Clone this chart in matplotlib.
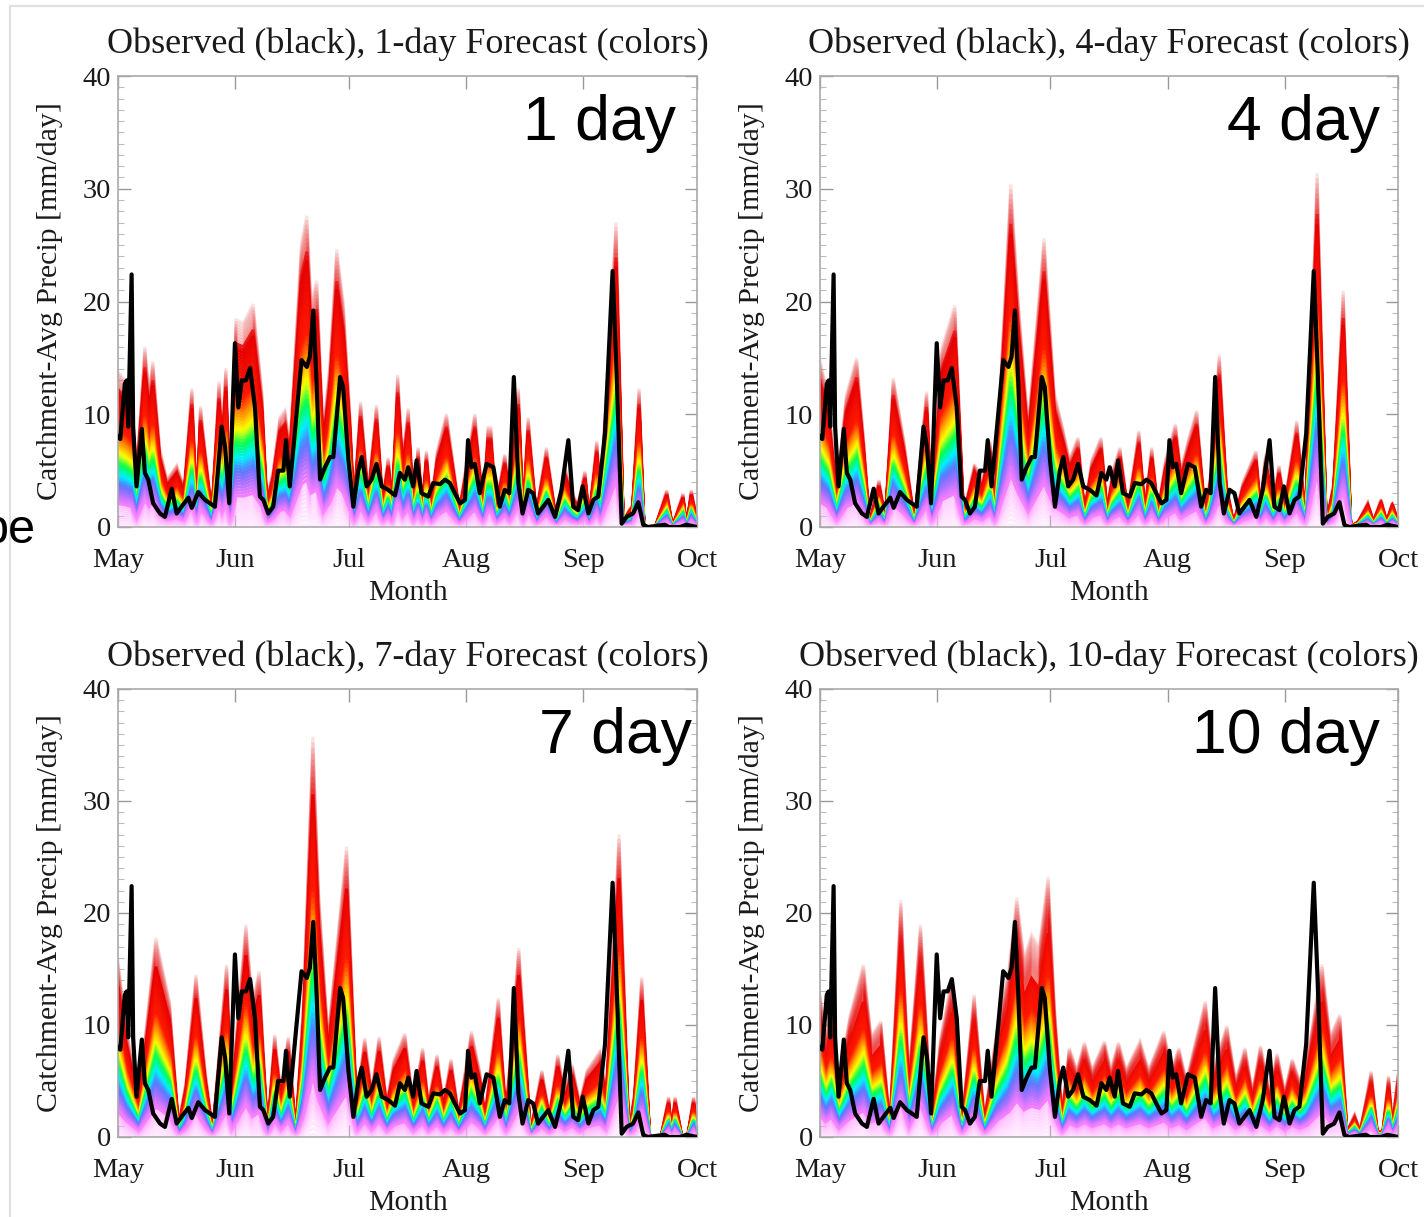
import numpy as np
import matplotlib
matplotlib.use('Agg')
import matplotlib.pyplot as plt
from matplotlib.colors import LinearSegmentedColormap
from matplotlib.lines import Line2D

# x axis: days since May 1
months = ['May', 'Jun', 'Jul', 'Aug', 'Sep', 'Oct']
month_start = [0, 31, 61, 92, 123, 153]

# observed catchment-average precip (day, mm/day)
obs_pts = [(0, 8.0), (0.6, 7.8), (1.8, 12.7), (2.3, 13.0), (2.7, 8.9), (3.6, 22.4), (4.0, 8.9),
           (4.9, 3.6), (6.3, 8.7), (7.1, 4.8), (8.0, 4.2), (9.3, 2.1), (11.1, 1.2), (12.4, 0.9),
           (14.2, 3.4), (15.5, 1.2), (16.8, 1.8), (18.6, 2.6), (19.5, 1.7), (21.2, 3.1), (23.0, 2.4),
           (24.3, 2.1), (25.6, 1.8), (27.4, 8.9), (28.3, 7.1), (29.4, 2.1), (30.9, 16.3), (31.8, 10.6),
           (32.7, 13.0), (33.8, 13.0), (34.9, 14.1), (36.2, 10.6), (37.5, 2.7), (38.4, 2.4), (39.7, 1.2),
           (41.0, 1.8), (42.3, 5.0), (43.7, 5.0), (44.4, 7.7), (45.4, 3.6), (47.2, 10.1), (48.5, 14.8),
           (49.9, 14.2), (50.7, 15.1), (51.6, 19.2), (52.5, 12.7), (53.4, 4.2), (54.7, 5.3), (56.0, 6.2),
           (56.9, 6.2), (58.7, 13.3), (59.5, 12.4), (60.9, 5.9), (62.2, 1.8), (63.5, 5.0), (64.4, 6.2),
           (65.7, 3.6), (67.0, 4.2), (68.3, 5.6), (69.7, 3.6), (71.4, 3.3), (73.2, 2.8), (74.5, 4.8),
           (75.8, 4.2), (76.7, 5.3), (78.0, 3.6), (78.9, 5.9), (80.2, 3.0), (82.0, 2.7), (83.3, 3.9),
           (85.1, 3.8), (86.4, 4.2), (87.7, 3.9), (89.0, 3.0), (90.4, 2.1), (91.7, 2.4), (92.5, 7.7),
           (93.4, 5.3), (94.3, 5.6), (95.6, 3.0), (97.4, 5.6), (99.2, 5.3), (100.9, 1.8), (102.2, 3.3),
           (103.4, 3.0), (104.6, 13.3), (105.8, 3.9), (106.9, 1.2), (108.4, 3.3), (109.7, 3.0),
           (111.0, 1.2), (113.7, 2.4), (115.5, 0.9), (117.2, 3.3), (119.0, 7.7), (120.3, 1.8),
           (121.6, 1.5), (122.8, 3.6), (124.3, 1.2), (125.6, 2.4), (126.9, 2.7), (128.7, 8.3),
           (130.7, 22.7), (131.7, 14.2), (133.1, 0.3), (134.4, 0.9), (136.1, 1.2), (137.5, 2.2),
           (138.8, 0.2), (140.0, 0.0), (144.5, 0.2), (145.5, 0.0), (148.5, 0.0), (150.2, 0.2), (153.0, 0.0)]

# upper edge of the forecast ensemble for each lead time (day, mm/day)
fc1_pts = [(0, 13.9), (2, 13), (3.5, 12), (4.9, 4.8), (7.1, 16.1), (8.2, 12), (9.2, 14.8), (11, 7),
           (12.9, 4.2), (15.5, 5.5), (17.5, 3.5), (19.5, 12.4), (20.8, 1.8), (21.8, 10.8), (24.8, 1.2),
           (26.7, 13.0), (27.5, 8), (28.5, 14.2), (29.6, 1.2), (31.2, 18.5), (33.1, 18.2), (35.7, 19.9),
           (38, 12.1), (39.3, 2.4), (41, 5.0), (42.8, 9.8), (44.1, 10.4), (45.4, 7.1), (48.5, 25.4),
           (49.9, 27.8), (51, 20), (52.5, 22.0), (54.2, 8.3), (56, 14.5), (57.8, 24.8), (59.5, 20.1),
           (61.3, 9.8), (62.3, 1.8), (64.1, 11.2), (66.1, 3.0), (68.3, 10.9), (69.9, 2.4), (71.4, 6.2),
           (72.5, 2.4), (73.9, 13.6), (75.2, 6), (76.7, 10.6), (78, 2.4), (79.3, 7.1), (80.4, 1.8),
           (81.5, 6.8), (82.7, 1.8), (84.4, 6.8), (86.8, 10.1), (90.2, 1.5), (91.8, 5), (94.3, 10.1),
           (96.5, 1.8), (97.8, 8.9), (98.5, 8.9), (99.9, 1.8), (102.2, 6.5), (103.5, 3), (105.8, 12.4),
           (107, 1.2), (108.4, 9.8), (110.5, 1.2), (113.2, 7.1), (115.8, 0.6), (118.1, 5.3), (120, 3),
           (121.5, 2), (123.4, 5.0), (124.5, 0.8), (126.5, 7.7), (127.5, 3), (131.6, 27.2), (133.5, 0.5),
           (135, 1.5), (136, 2), (137.7, 12.4), (139, 0), (142, 0), (145, 3.3), (146.5, 0), (149.3, 3.0),
           (150.2, 0), (151.5, 3.3), (153, 0.5)]
fc4_pts = [(0, 14.8), (2, 12), (4.4, 3.3), (7, 11.8), (9.7, 15.1), (11.5, 8), (13.1, 0.3), (15.6, 4.2),
           (17.3, 0.8), (19.4, 13.3), (22.2, 7.7), (25, 0.5), (28.2, 12.1), (29.5, 2), (32.3, 16.0),
           (35.7, 19.8), (38, 1.2), (40.9, 5.6), (43, 4), (45, 7.7), (46.3, 2), (48, 14.2), (50.5, 30.6),
           (52.5, 20), (55.1, 8.9), (59.3, 25.8), (62, 12), (64.2, 8.9), (66, 6), (68.3, 8.0), (70, 1.5),
           (72, 6), (74.4, 8.0), (76, 1.5), (77.5, 5), (79.4, 7.1), (81.5, 1.5), (84.4, 8.6), (86, 1.5),
           (87.8, 7.1), (89.5, 1.5), (91.5, 6), (94.1, 9.2), (95.5, 5), (97.7, 8.0), (99.7, 10.4),
           (102, 1.0), (103.5, 5), (105.7, 15.4), (107.5, 4), (109.5, 0.3), (112, 4), (115.4, 6.8),
           (116.5, 2), (118, 6.5), (120, 2), (121.5, 5.5), (123, 2), (126.2, 9.5), (128.5, 1.0),
           (131.6, 31.6), (134, 0.3), (136, 4), (138.5, 21.1), (140.5, 0), (142.5, 0.5), (145, 2.2),
           (146.5, 0.5), (148.5, 2.5), (150, 0.5), (151.5, 2.2), (153, 0.5)]
fc7_pts = [(0, 15.8), (2, 10), (5.5, 3.5), (10, 17.9), (13.6, 12.2), (16, 1.0), (18, 5), (20.6, 14.6),
           (23, 6), (25, 0.5), (28.7, 15.5), (30, 4), (33.8, 19.1), (35.5, 12), (37.3, 14.9), (39.5, 0.5),
           (41.4, 9.2), (43, 4), (45, 9), (47, 0.5), (49, 12), (51.5, 36.0), (53, 22), (55.5, 8.9),
           (60.4, 26.1), (63, 3), (65.2, 8.9), (67, 4), (69, 9), (71, 3), (73, 7), (75.8, 9.3), (78, 3),
           (80.5, 8), (82, 3), (84.3, 7.4), (86, 3), (88, 7), (90, 2), (93.4, 9.5), (95.5, 6), (97, 2),
           (100.5, 12.5), (102.5, 2), (105.9, 17.0), (109, 0.5), (112, 6), (114, 2), (116.2, 7.4),
           (118, 4), (120, 6.5), (122, 3), (124, 6), (127.3, 7.7), (129, 4), (132.4, 27.2), (135, 0.3),
           (136.5, 4), (138.4, 14.4), (140.5, 0), (143.5, 0), (145.5, 3.6), (146.3, 0.5), (147.2, 3.6),
           (149, 0), (150.5, 0), (152.1, 3.6), (153, 0.5)]
fc10_pts = [(0, 12.8), (1.5, 9), (3, 11.5), (5, 5), (8, 11), (11.5, 15.5), (13.5, 9), (16.1, 10.4),
            (18.5, 1.0), (21.4, 21.3), (23.5, 5), (26.6, 19.1), (27.5, 14), (29.5, 1.0), (32, 9),
            (35, 14.3), (37.5, 1.0), (40.8, 12.8), (43.5, 1.5), (47, 10), (50, 15), (52.1, 21.5),
            (54, 16), (56, 18.2), (58, 17), (60.4, 23.4), (62, 12), (64, 2), (66, 8), (68, 6), (70, 8.5),
            (72, 6), (75.3, 8.6), (77, 6), (79, 8.5), (81, 6), (84.7, 8.6), (87, 6), (91, 9.5), (93, 6),
            (95, 8), (97, 5), (99, 8), (102, 12.2), (104, 6), (107.7, 10.0), (110, 5), (112.5, 8),
            (114.5, 4), (116.6, 8.2), (119, 4), (121, 7.5), (123, 4), (125, 7), (127, 5), (129, 7),
            (132.9, 15.5), (135, 9), (137.6, 11.0), (139.5, 0.5), (141.5, 2), (143, 0.5), (145.9, 5.9),
            (147.5, 0.5), (149, 0.5), (150.5, 5.5), (151.5, 1), (153, 5.6)]

leads = ['1', '4', '7', '10']
forecasts = [fc1_pts, fc4_pts, fc7_pts, fc10_pts]

# ensemble member colours, lowest member to highest
ens_cmap = LinearSegmentedColormap.from_list('ens', [
    (0.00, '#ffd0ff'), (0.14, '#ff80ff'), (0.22, '#a070ff'), (0.27, '#5a78ff'),
    (0.33, '#00f0ff'), (0.40, '#00ff50'), (0.47, '#ffff00'), (0.54, '#ff9900'),
    (0.62, '#ff1a00'), (0.85, '#e60000'), (1.00, '#f2a0a0')])
n_members = 70
fade_from = [0.88, 0.88, 0.85, 0.78]

W, H = 1424, 1217
fig = plt.figure(figsize=(W / 100, H / 100), dpi=100)
serif = 'Liberation Serif'

# axes boxes in pixels: left, top, right, bottom
boxes = [(118, 76, 697, 527), (820, 76, 1398, 527), (118, 689, 697, 1137), (820, 689, 1398, 1137)]
label_right = [676, 1380, 692, 1380]

for k in range(4):
    l, t, r, b = boxes[k]
    ax = fig.add_axes([l / W, 1 - b / H, (r - l) / W, (b - t) / H])
    fd = np.array([p[0] for p in forecasts[k]])
    fv = np.array([p[1] for p in forecasts[k]])
    for i in range(n_members - 1, -1, -1):
        f = (i + 0.5) / n_members
        a = 1.0
        if f < 0.14:
            a = 0.35
        elif f > fade_from[k]:
            a = 0.3
        ax.plot(fd, fv * f, color=ens_cmap(f), lw=2.2, alpha=a, solid_joinstyle='miter', zorder=2)
    od = [p[0] for p in obs_pts]
    ov = [p[1] for p in obs_pts]
    ax.plot(od, ov, color='black', lw=3.0, zorder=5)

    ax.set_xlim(0, 153)
    ax.set_ylim(0, 40)
    ax.set_xticks(month_start)
    ax.set_xticklabels(months, fontfamily=serif, fontsize=20.5, color='#1a1a1a')
    ax.set_yticks([0, 10, 20, 30, 40])
    ax.set_yticklabels(['0', '10', '20', '30', '40'], fontfamily=serif, fontsize=20.5, color='#1a1a1a')
    ax.set_yticks(np.arange(0, 41, 1), minor=True)
    ax.tick_params(which='major', direction='in', top=True, right=True, length=9, width=1,
                   color='#999999')
    ax.tick_params(axis='x', which='major', pad=15)
    ax.tick_params(axis='y', which='major', pad=5)
    ax.tick_params(axis='y', which='minor', direction='in', right=True, length=4, width=0.8,
                   color='#bbbbbb')
    for s in ax.spines.values():
        s.set_color('#aaaaaa')
        s.set_linewidth(1.2)

    cx = (l + r) / 2 / W
    fig.text(cx, 1 - (t - 32) / H, 'Observed (black), %s-day Forecast (colors)' % leads[k],
             ha='center', va='center', fontfamily=serif, fontsize=26, color='#1a1a1a')
    fig.text(cx, 1 - (b + 66) / H, 'Month', ha='center', va='center',
             fontfamily=serif, fontsize=21.5, color='#1a1a1a')
    fig.text((l - 68) / W, 1 - (t + b) / 2 / H, 'Catchment-Avg Precip [mm/day]', rotation=90,
             ha='center', va='center', fontfamily=serif, fontsize=21.5, color='#1a1a1a')
    fig.text(label_right[k] / W, 1 - (t + 64) / H, '%s day' % leads[k], ha='right', va='baseline',
             fontfamily='Liberation Sans', fontsize=45, color='black')

# stray slide text (cut off by the left edge, as in the source) and frame
fig.text(36 / W, 1 - 543 / H, 'be', ha='right', va='baseline', fontfamily='Liberation Sans',
         fontsize=35, color='black')
fig.add_artist(Line2D([10 / W, 10 / W], [0, 1 - 6 / H], transform=fig.transFigure,
                      color='#e0e0e0', lw=1.5))
fig.add_artist(Line2D([10 / W, 1], [1 - 6 / H, 1 - 6 / H], transform=fig.transFigure,
                      color='#e0e0e0', lw=1.5))

plt.savefig('out.png', dpi=100)
